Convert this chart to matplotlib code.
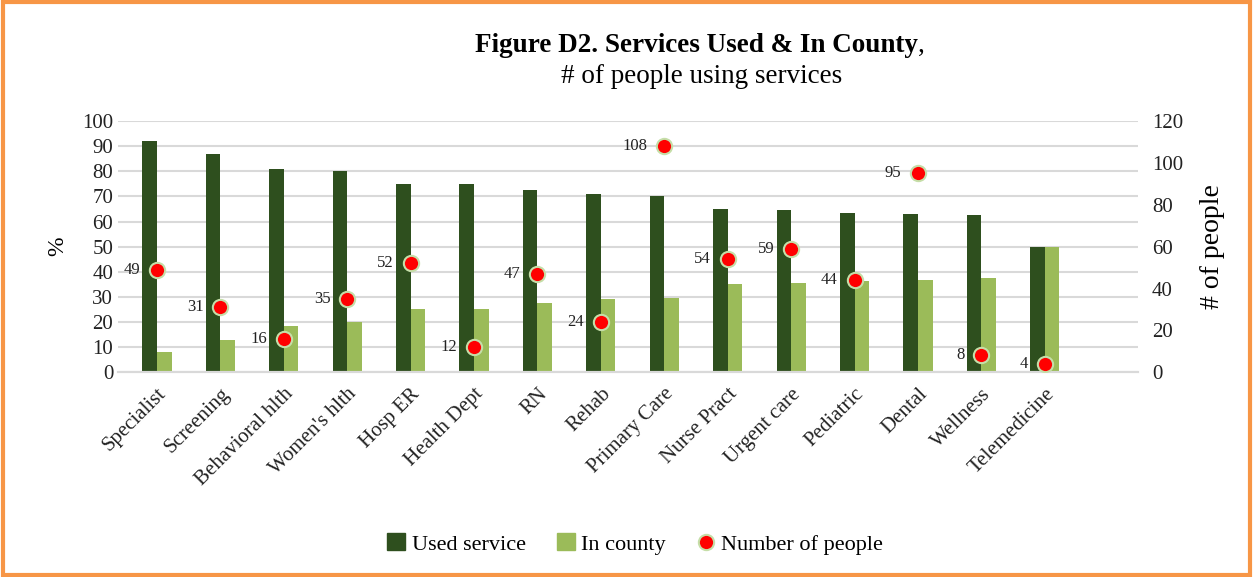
import matplotlib.pyplot as plt
import numpy as np
from matplotlib.lines import Line2D
from matplotlib.patches import Patch, Rectangle

services = ["Specialist", "Screening", "Behavioral hlth", "Women's hlth", "Hosp ER",
            "Health Dept", "RN", "Rehab", "Primary Care", "Nurse Pract",
            "Urgent care", "Pediatric", "Dental", "Wellness", "Telemedicine"]
used_service = [92, 87, 81, 80, 75, 75, 72.5, 71, 70.3, 65, 64.5, 63.6, 63.2, 62.5, 50]
in_county = [8.2, 13, 18.5, 20, 25, 25, 27.6, 29, 29.7, 35.2, 35.6, 36.2, 36.8, 37.4, 50]
num_people = [49, 31, 16, 35, 52, 12, 47, 24, 108, 54, 59, 44, 95, 8, 4]

dark_green = '#2E4F1E'
light_green = '#9BBB59'
dot_red = '#FF0000'
dot_edge = '#C5DEA8'

plt.rcParams['font.family'] = ['Liberation Serif', 'DejaVu Serif']

fig = plt.figure(figsize=(12.53, 5.77), dpi=100)
ax = fig.add_axes([0.0942, 0.355, 0.814, 0.435])
ax2 = ax.twinx()

x = np.arange(len(services))
w = 0.23
ax.bar(x - w / 2, used_service, w, color=dark_green, zorder=2)
ax.bar(x + w / 2, in_county, w, color=light_green, zorder=2)

ax.set_xlim(-0.615, len(services) + 0.47)
ax.set_ylim(0, 100)
ax.set_yticks(range(0, 101, 10))
ax.yaxis.grid(True, color='#D9D9D9', linewidth=1.5, zorder=0)
ax.set_axisbelow(True)
ax.set_xticks(x)
ax.set_xticklabels(services, rotation=45, ha='right', rotation_mode='anchor', fontsize=15)
ax.tick_params(axis='both', length=0, labelsize=15, colors='#222222')
ax.tick_params(axis='x', pad=9)
ax.set_ylabel('%', fontsize=17, labelpad=10)

ax2.set_ylim(0, 120)
ax2.set_yticks(range(0, 121, 20))
ax2.tick_params(axis='y', length=0, labelsize=15, colors='#222222', pad=10)
ax2.set_ylabel('# of people', fontsize=20, labelpad=12)
ax2.plot(x, num_people, linestyle='none', marker='o', markersize=11,
         markerfacecolor=dot_red, markeredgecolor=dot_edge, markeredgewidth=1.5, zorder=5)
for xi, n in zip(x, num_people):
    ax2.annotate(str(n), (xi, n), xytext=(-12, 0), textcoords='offset points',
                 ha='right', va='center', fontsize=12, color='#222222')

for a in (ax, ax2):
    for side in ('top', 'left', 'right'):
        a.spines[side].set_visible(False)
    a.spines['bottom'].set_color('#D9D9D9')
    a.spines['bottom'].set_linewidth(1.5)

title = fig.text(0.556, 0.9, 'Figure D2. Services Used & In County', fontsize=19.5,
                 fontweight='bold', ha='center', va='bottom')
fig.text(0.56, 0.845, '# of people using services', fontsize=19.5, ha='center', va='bottom')
fig.canvas.draw()
ax.annotate(',', xy=(1, 0), xycoords=title, fontsize=19.5, va='bottom', ha='left',
            annotation_clip=False)

handles = [Patch(color=dark_green), Patch(color=light_green),
           Line2D([], [], linestyle='none', marker='o', markersize=11,
                  markerfacecolor=dot_red, markeredgecolor=dot_edge, markeredgewidth=1.5)]
fig.legend(handles, ['Used service', 'In county', 'Number of people'], loc='center',
           bbox_to_anchor=(0.507, 0.057), ncol=3, frameon=False, fontsize=16,
           handlelength=0.8, handleheight=0.8, handletextpad=0.3, columnspacing=1.4)

fig.patches.append(Rectangle((0.002, 0.003), 0.996, 0.994, transform=fig.transFigure,
                             fill=False, edgecolor='#F79646', linewidth=3))

plt.savefig('out.png', dpi=100)
